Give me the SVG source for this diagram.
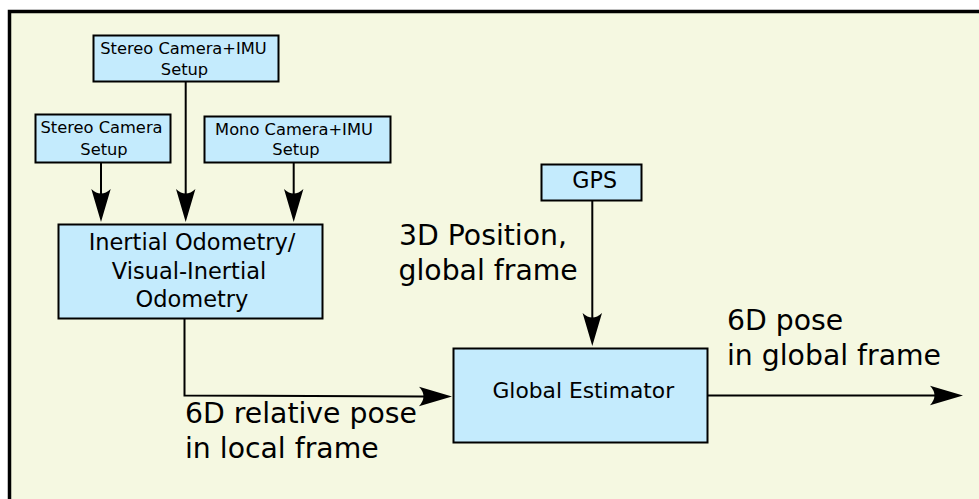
<svg xmlns="http://www.w3.org/2000/svg" width="979" height="499" viewBox="0 0 979 499">
<style>
.box{fill:#c4ebfd;stroke:#000;stroke-width:2}
.t{font-family:"DejaVu Sans",sans-serif;fill:#000}
.s{font-size:16.3px;text-anchor:middle}
.m{font-size:22.5px;text-anchor:middle}
.l{font-size:28.3px}
.c{fill:none;stroke:#000;stroke-width:2;marker-end:url(#ah)}
</style>
<defs>
<marker id="ah" markerUnits="userSpaceOnUse" viewBox="-35 -11 36 22" refX="-27" refY="0" markerWidth="36" markerHeight="22" orient="auto">
<path d="M0,0 L-33,-9.7 Q-24,0 -33,9.7 Z" fill="#000"/>
</marker>
</defs>
<rect x="0" y="0" width="979" height="499" fill="#fff"/>
<rect x="9.5" y="11.5" width="1000" height="520" fill="#f5f8e1" stroke="#000" stroke-width="3.5"/>
<g id="connectors">
<path class="c" d="M101,163 V195"/>
<path class="c" d="M185.7,82 V195"/>
<path class="c" d="M293.7,163 V195"/>
<path class="c" d="M184.5,319 V395.5 L425,396.5"/>
<path class="c" d="M592.3,200 V319"/>
<path class="c" d="M708,395.5 H936"/>
</g>
<g id="stereo-imu">
<rect class="box" x="93.5" y="35.5" width="185" height="46"/>
<text class="t s" x="183.5" y="54.3">Stereo Camera+IMU</text>
<text class="t s" x="184.5" y="75">Setup</text>
</g>
<g id="stereo">
<rect class="box" x="35.5" y="114.5" width="135" height="48"/>
<text class="t s" x="101.5" y="133.3">Stereo Camera</text>
<text class="t s" x="104" y="155.3">Setup</text>
</g>
<g id="mono-imu">
<rect class="box" x="204.5" y="116.5" width="186" height="46"/>
<text class="t s" x="294" y="135.3">Mono Camera+IMU</text>
<text class="t s" x="296" y="155.3">Setup</text>
</g>
<g id="odometry">
<rect class="box" x="58.5" y="224.5" width="264" height="94"/>
<text class="t m" x="192" y="250">Inertial Odometry/</text>
<text class="t m" x="189" y="279">Visual-Inertial</text>
<text class="t m" x="192" y="307.3">Odometry</text>
</g>
<g id="gps">
<rect class="box" x="541.5" y="164.5" width="100" height="36"/>
<text class="t" x="594.7" y="188.3" font-size="22.2" text-anchor="middle">GPS</text>
</g>
<g id="global-estimator">
<rect class="box" x="453.5" y="348.5" width="254" height="94"/>
<text class="t" x="583.3" y="398.3" font-size="21.8" text-anchor="middle">Global Estimator</text>
</g>
<g id="labels">
<text class="t l" x="399" y="245">3D Position,</text>
<text class="t l" x="398.5" y="280">global frame</text>
<text class="t l" x="185" y="423.3">6D relative pose</text>
<text class="t l" x="185" y="458.3">in local frame</text>
<text class="t l" x="727" y="330">6D pose</text>
<text class="t l" x="727" y="365">in global frame</text>
</g>
</svg>
